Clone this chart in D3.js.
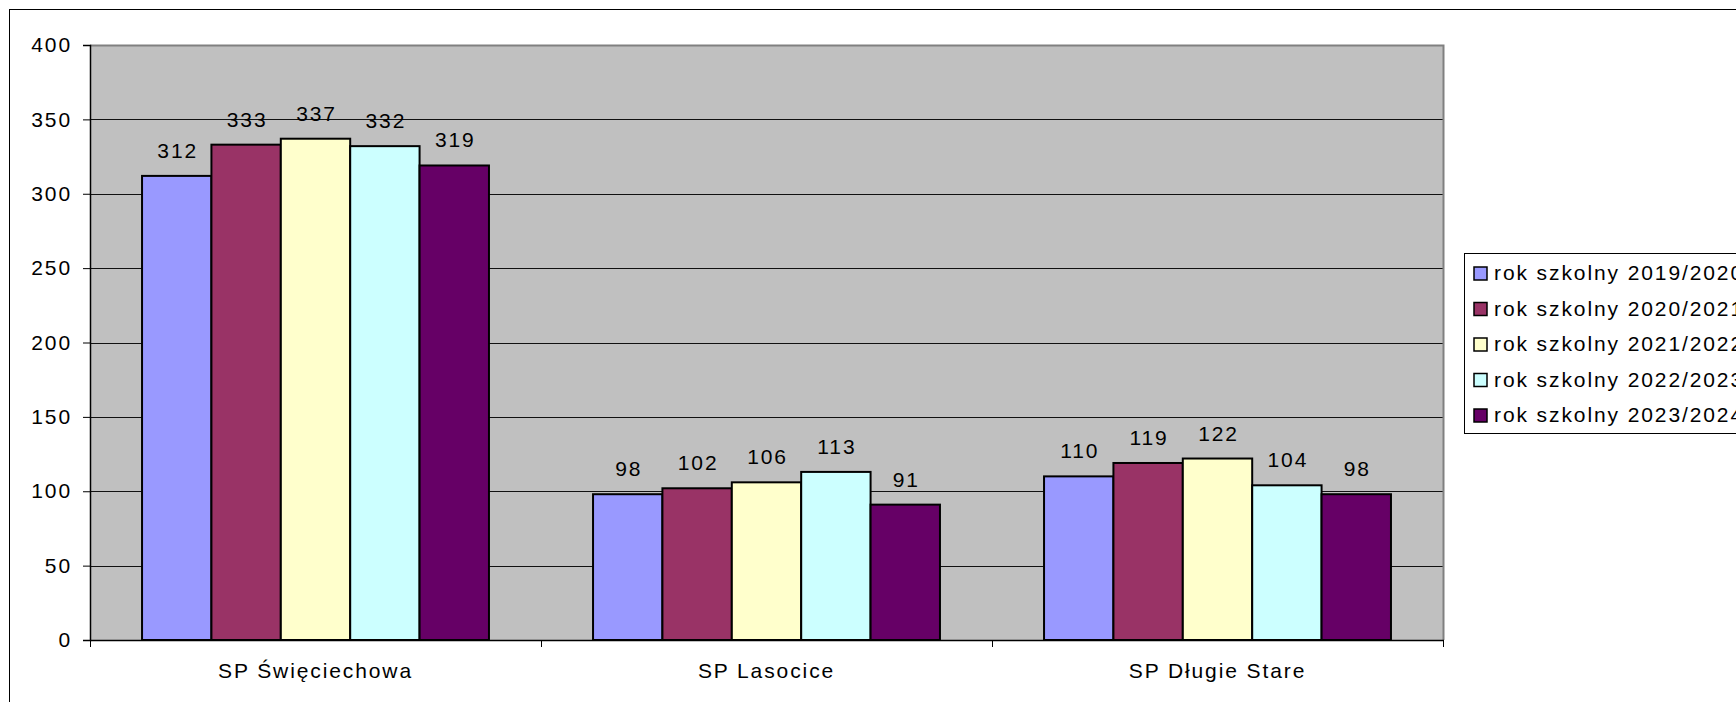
<!DOCTYPE html>
<html>
<head>
<meta charset="utf-8">
<script src="https://cdn.jsdelivr.net/npm/d3@7"></script>
<style>
  html, body { margin: 0; padding: 0; background: #fff; }
  svg { display: block; }
  text { font-family: "Liberation Sans", Arial, sans-serif; fill: #000; }
</style>
</head>
<body>
<svg id="chart" width="1736" height="702"></svg>
<script>
const categories = ["SP Święciechowa", "SP Lasocice", "SP Długie Stare"];
const seriesNames = ["rok szkolny 2019/2020", "rok szkolny 2020/2021", "rok szkolny 2021/2022", "rok szkolny 2022/2023", "rok szkolny 2023/2024"];
const s2019 = [312, 98, 110];
const s2020 = [333, 102, 119];
const s2021 = [337, 106, 122];
const s2022 = [332, 113, 104];
const s2023 = [319, 91, 98];
const seriesColors = ["#9999FF", "#993366", "#FFFFCC", "#CCFFFF", "#660066"];
const yTicks = [0, 50, 100, 150, 200, 250, 300, 350, 400];

const seriesValues = [s2019, s2020, s2021, s2022, s2023];

const FS = "21px";
const LS = "1.9px";

const svg = d3.select("#chart");
const plot = { left: 90, top: 45, right: 1443, bottom: 640 };

// outer chart border
svg.append("rect")
  .attr("x", 9.5).attr("y", 9.5)
  .attr("width", 1800).attr("height", 800)
  .attr("fill", "#fff").attr("stroke", "#000").attr("stroke-width", 1);

const x0 = d3.scaleBand().domain(categories).range([plot.left, plot.right]).paddingInner(0).paddingOuter(0);
const y = d3.scaleLinear().domain([0, 400]).range([plot.bottom, plot.top]);

// plot background
svg.append("rect")
  .attr("x", plot.left).attr("y", plot.top)
  .attr("width", plot.right - plot.left).attr("height", plot.bottom - plot.top)
  .attr("fill", "#C0C0C0");

// gridlines
svg.append("g").selectAll("line").data(yTicks.filter(t => t > 0 && t < 400)).join("line")
  .attr("x1", plot.left).attr("x2", plot.right)
  .attr("y1", d => Math.round(y(d)) + 0.5).attr("y2", d => Math.round(y(d)) + 0.5)
  .attr("stroke", "#111").attr("stroke-width", 1);

// top and right border of plot
svg.append("path")
  .attr("d", `M${plot.left},${plot.top + 0.5}H${plot.right + 0.5}V${plot.bottom}`)
  .attr("fill", "none")
  .attr("stroke", "#808080").attr("stroke-width", 2);

// bars
const groupFrac = 5 / 6.5; // gap width 150%
const inner = d3.scaleBand().domain(d3.range(5))
  .range([0, x0.bandwidth() * groupFrac]);
const groupOffset = x0.bandwidth() * (1 - groupFrac) / 2;

const bars = [];
categories.forEach((c, ci) => {
  seriesValues.forEach((vals, si) => {
    bars.push({ c, si, v: vals[ci] });
  });
});

svg.append("g").selectAll("rect").data(bars).join("rect")
  .attr("x", d => x0(d.c) + groupOffset + inner(d.si))
  .attr("y", d => y(d.v))
  .attr("width", inner.bandwidth())
  .attr("height", d => y(0) - y(d.v))
  .attr("fill", d => seriesColors[d.si])
  .attr("stroke", "#000").attr("stroke-width", 2);

// data labels
svg.append("g").selectAll("text").data(bars).join("text")
  .attr("x", d => x0(d.c) + groupOffset + inner(d.si) + inner.bandwidth() / 2 + 1)
  .attr("y", d => y(d.v) - 18)
  .attr("text-anchor", "middle")
  .style("font-size", FS).style("letter-spacing", LS)
  .text(d => d.v);

// y axis
const yAxis = svg.append("g")
  .attr("transform", `translate(${plot.left},0)`)
  .call(d3.axisLeft(y).tickValues(yTicks).tickSize(7).tickPadding(11));
yAxis.select(".domain").attr("stroke", "#000").attr("stroke-width", 1.5);
yAxis.selectAll(".tick line").attr("stroke", "#000");
yAxis.selectAll("text").style("font-size", FS).style("letter-spacing", LS)
  .style("font-family", "Liberation Sans, Arial, sans-serif").attr("fill", "#000");

// x axis
const xAxis = svg.append("g")
  .attr("transform", `translate(0,${plot.bottom})`)
  .call(d3.axisBottom(x0).tickSize(0).tickPadding(23));
xAxis.select(".domain").remove();
xAxis.selectAll("text").style("font-size", FS).style("letter-spacing", LS)
  .style("font-family", "Liberation Sans, Arial, sans-serif").attr("fill", "#000");
svg.append("line")
  .attr("x1", plot.left).attr("x2", plot.right + 1)
  .attr("y1", plot.bottom + 0.5).attr("y2", plot.bottom + 0.5)
  .attr("stroke", "#000").attr("stroke-width", 1.5);
// category boundary ticks
const bounds = [plot.left, ...categories.map(c => x0(c) + x0.bandwidth())];
svg.append("g").selectAll("line").data(bounds).join("line")
  .attr("x1", d => Math.round(d) + 0.5).attr("x2", d => Math.round(d) + 0.5)
  .attr("y1", plot.bottom).attr("y2", plot.bottom + 7)
  .attr("stroke", "#000").attr("stroke-width", 1);

// legend
const legend = svg.append("g");
legend.append("rect")
  .attr("x", 1464.5).attr("y", 253.5).attr("width", 400).attr("height", 180)
  .attr("fill", "#fff").attr("stroke", "#000").attr("stroke-width", 1);
const ly = d3.scalePoint().domain(seriesNames).range([272.5, 414.5]);
const items = legend.selectAll("g.item").data(seriesNames).join("g").attr("class", "item");
items.append("rect")
  .attr("x", 1474).attr("y", d => ly(d) - 5.5)
  .attr("width", 13).attr("height", 13)
  .attr("fill", (d, i) => seriesColors[i]).attr("stroke", "#000").attr("stroke-width", 1.5);
items.append("text")
  .attr("x", 1494).attr("y", d => ly(d) + 7.5)
  .style("font-size", FS).style("letter-spacing", LS)
  .text(d => d);
</script>
</body>
</html>
